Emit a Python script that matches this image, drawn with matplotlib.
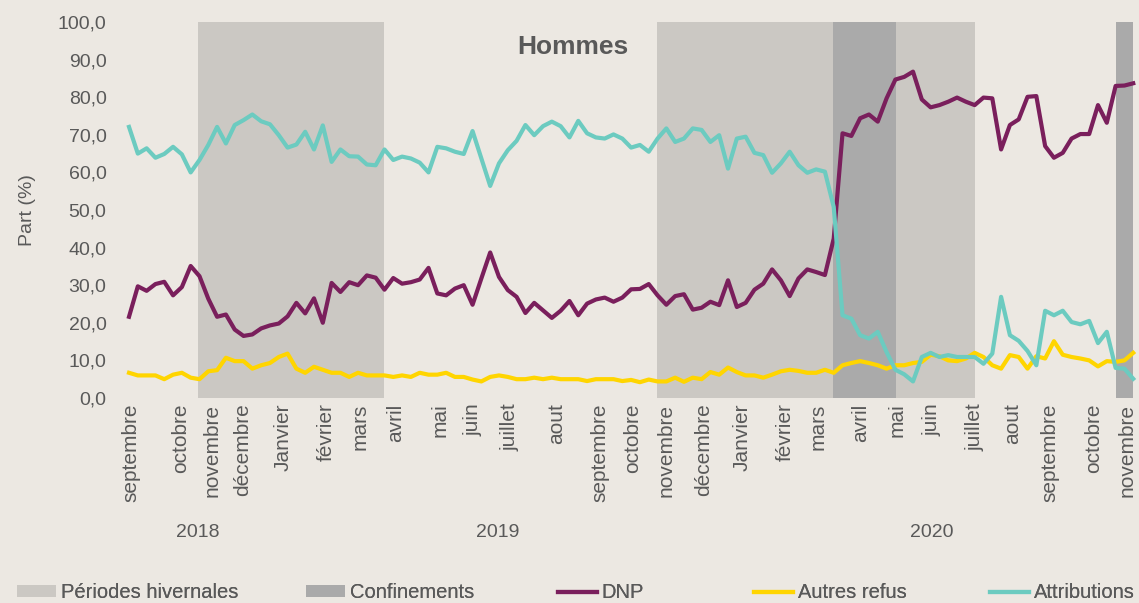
import matplotlib
matplotlib.use("Agg")
import matplotlib.pyplot as plt
from matplotlib.patches import Patch
from matplotlib.lines import Line2D
from matplotlib.ticker import FuncFormatter

plt.rcParams['font.family'] = ['Liberation Sans', 'DejaVu Sans']

# --- données hebdomadaires (sept. 2018 -> nov. 2020) ---
dnp = [21.6, 29.7, 28.5, 30.3, 30.9, 27.3, 29.5, 35.1, 32.4, 26.4,
       21.6, 22.2, 18.2, 16.5, 16.9, 18.5, 19.3, 19.8, 21.7, 25.3,
       22.5, 26.5, 20.0, 30.6, 28.2, 30.8, 30.0, 32.6, 32.0, 28.8,
       31.9, 30.4, 30.8, 31.5, 34.6, 27.8, 27.3, 29.1, 30.0, 24.8,
       31.8, 38.7, 32.2, 28.7, 26.9, 22.6, 25.3, 23.3, 21.3, 23.2,
       25.8, 22.0, 25.1, 26.2, 26.7, 25.6, 26.7, 28.9, 29.0, 30.3,
       27.3, 24.8, 27.1, 27.6, 23.5, 24.0, 25.6, 24.7, 31.3, 24.2,
       25.3, 28.8, 30.4, 34.2, 31.3, 27.1, 31.8, 34.2, 33.5, 32.7,
       42.4, 70.4, 69.7, 74.4, 75.4, 73.5, 79.7, 84.7, 85.4, 86.8,
       79.4, 77.3, 77.9, 78.8, 79.9, 78.8, 77.9, 79.9, 79.7, 66.1,
       72.6, 74.1, 80.1, 80.3, 67.0, 63.9, 65.2, 69.0, 70.2, 70.2,
       77.9, 73.2, 83.0, 83.1, 83.7]

autres = [6.7, 6.0, 6.0, 6.0, 5.0, 6.2, 6.7, 5.4, 5.0, 7.1,
          7.4, 10.7, 9.8, 9.8, 7.8, 8.7, 9.3, 10.9, 11.8, 7.8,
          6.7, 8.3, 7.5, 6.7, 6.7, 5.6, 6.7, 6.0, 6.0, 6.0,
          5.6, 6.0, 5.6, 6.7, 6.2, 6.2, 6.7, 5.6, 5.6, 4.9,
          4.4, 5.6, 6.0, 5.6, 5.0, 5.0, 5.4, 5.0, 5.4, 5.0,
          5.0, 5.0, 4.5, 5.0, 5.0, 5.0, 4.5, 4.8, 4.2, 4.9,
          4.4, 4.4, 5.4, 4.3, 5.4, 5.0, 6.9, 6.2, 8.1, 6.9,
          6.0, 6.0, 5.4, 6.2, 7.1, 7.5, 7.2, 6.7, 6.7, 7.5,
          6.7, 8.7, 9.3, 9.8, 9.3, 8.7, 7.8, 8.7, 8.7, 9.3,
          9.6, 11.5, 11.1, 10.0, 9.8, 10.5, 12.0, 10.9, 8.7, 7.8,
          11.4, 10.9, 7.8, 11.1, 10.5, 15.1, 11.5, 10.9, 10.5, 10.0,
          8.4, 9.8, 9.6, 10.0, 12.0]

attributions = [72.1, 65.0, 66.4, 63.9, 64.9, 66.8, 64.8, 60.0, 63.3, 67.3,
                72.1, 67.7, 72.6, 73.9, 75.4, 73.6, 72.8, 69.9, 66.6, 67.4,
                70.8, 66.1, 72.5, 62.8, 66.1, 64.3, 64.2, 62.1, 61.9, 66.1,
                63.3, 64.2, 63.7, 62.6, 60.0, 66.8, 66.4, 65.5, 64.9, 71.0,
                63.7, 56.4, 62.4, 65.9, 68.4, 72.6, 69.9, 72.3, 73.5, 72.3,
                69.3, 73.7, 70.4, 69.3, 69.0, 70.1, 69.0, 66.6, 67.3, 65.5,
                69.0, 71.7, 68.1, 69.0, 71.7, 71.3, 68.1, 69.9, 61.0, 69.0,
                69.5, 65.2, 64.6, 59.9, 62.4, 65.5, 61.9, 59.9, 60.8, 60.2,
                50.8, 22.0, 21.1, 16.7, 15.8, 17.6, 12.2, 7.5, 6.3, 4.4,
                10.9, 12.0, 10.9, 11.4, 10.9, 10.9, 10.9, 9.1, 11.8, 26.9,
                16.7, 15.2, 12.5, 8.7, 23.2, 22.0, 23.2, 20.2, 19.6, 20.5,
                14.6, 17.6, 8.0, 7.8, 5.1]

months = ["septembre", "octobre", "novembre", "décembre", "Janvier", "février",
          "mars", "avril", "mai", "juin", "juillet", "aout",
          "septembre", "octobre", "novembre", "décembre", "Janvier", "février",
          "mars", "avril", "mai", "juin", "juillet", "aout",
          "septembre", "octobre", "novembre"]
month_pos = [0.2, 5.9, 9.4, 12.9, 17.5, 22.4, 26.2, 30.3, 35.3, 39.0, 43.3, 48.6,
             53.5, 57.2, 61.0, 65.2, 69.6, 74.5, 78.2, 83.1, 87.2, 91.2, 96.0,
             100.3, 104.5, 109.5, 113.3]
years = ["2018", "2019", "2020"]
year_pos = [7.8, 41.9, 91.1]

hiver = [(7.8, 28.9), (59.9, 96.0)]
confinements = [(79.9, 87.1), (112.1, 114.0)]

# --- couleurs ---
bg = "#ECE8E2"
c_hiver = "#CBC8C3"
c_conf = "#AAAAAA"
c_dnp = "#7A1F5C"
c_autres = "#FFD500"
c_attr = "#6CCBC0"
c_txt = "#595959"

fig = plt.figure(figsize=(11.39, 6.03), dpi=100, facecolor=bg)
ax = fig.add_axes([0.1094, 0.340, 0.8894, 0.6235])
ax.set_facecolor(bg)

for a, b in hiver:
    ax.axvspan(a, b, color=c_hiver, lw=0, zorder=0)
for a, b in confinements:
    ax.axvspan(a, b, color=c_conf, lw=0, zorder=0)

x = list(range(len(dnp)))
ax.plot(x, dnp, color=c_dnp, lw=3, zorder=3)
ax.plot(x, autres, color=c_autres, lw=3, zorder=2)
ax.plot(x, attributions, color=c_attr, lw=3, zorder=4)

ax.set_xlim(-0.5, len(dnp) - 0.5)
ax.set_ylim(0, 100)
ax.set_yticks(range(0, 101, 10))
ax.yaxis.set_major_formatter(FuncFormatter(lambda v, p: f"{v:.1f}".replace(".", ",")))
ax.set_xticks(month_pos)
ax.set_xticklabels(months, rotation=90, va="top", ha="center")
ax.tick_params(axis="x", length=0, pad=4, labelsize=15, labelcolor=c_txt)
ax.tick_params(axis="y", length=0, pad=13, labelsize=14, labelcolor=c_txt)
for s in ax.spines.values():
    s.set_visible(False)

ax.set_ylabel("Part (%)", fontsize=14, color=c_txt)
ax.yaxis.set_label_coords(-0.087, 0.5)

for yr, xp in zip(years, year_pos):
    ax.text(xp, -0.359, yr, transform=ax.get_xaxis_transform(), ha="center",
            va="center", fontsize=14, color=c_txt)

ax.text(0.4427, 0.9335, "Hommes", transform=ax.transAxes, ha="center", va="center",
        fontsize=19, fontweight="bold", color=c_txt)

# légende : une entrée par position, comme dans l'original
handles = [Patch(facecolor=c_hiver, edgecolor="none"),
           Patch(facecolor=c_conf, edgecolor="none"),
           Line2D([], [], color=c_dnp, lw=3),
           Line2D([], [], color=c_autres, lw=3),
           Line2D([], [], color=c_attr, lw=3)]
labels = ["Périodes hivernales", "Confinements", "DNP", "Autres refus", "Attributions"]
leg_x = [17, 306, 558, 754, 990]
for h, lab, lx in zip(handles, labels, leg_x):
    leg = fig.legend([h], [lab], loc="center left", bbox_to_anchor=(lx / 1139, 10 / 603),
                     frameon=False, fontsize=14.5, handlelength=1.95, handleheight=0.55,
                     handletextpad=0.22, borderpad=0, borderaxespad=0)
    for t in leg.get_texts():
        t.set_color(c_txt)
    fig.add_artist(leg)

fig.savefig("out.png", dpi=100, facecolor=bg)
